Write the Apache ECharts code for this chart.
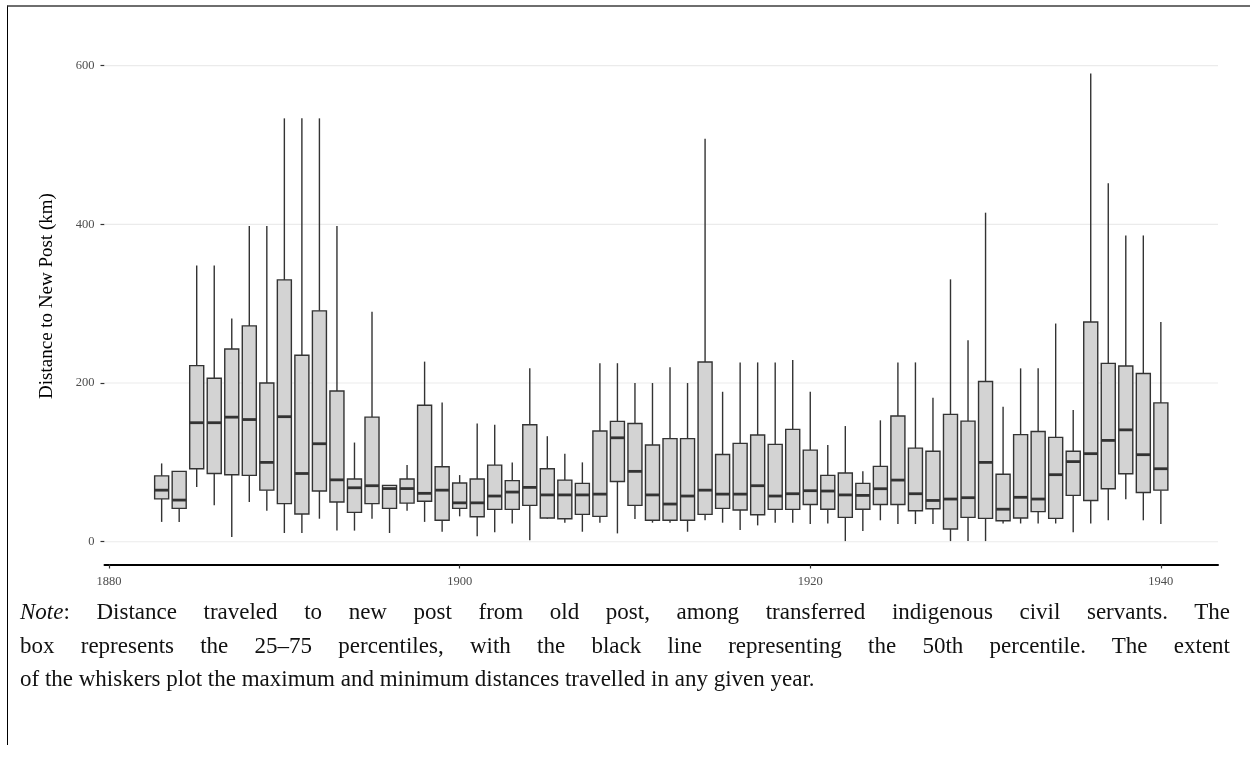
<!DOCTYPE html>
<html>
<head>
<meta charset="utf-8">
<script src="https://cdn.jsdelivr.net/npm/echarts@6/dist/echarts.min.js"></script>
<style>
  html, body { margin: 0; padding: 0; background: #ffffff; }
  #wrap { position: relative; width: 1250px; height: 778px; overflow: hidden; }
  #chart { position: absolute; left: 0; top: 0; width: 1250px; height: 778px; }
  #frame { position: absolute; left: 7px; top: 5px; width: 1250px; height: 740px;
           border-top: 2px solid #6e6e6e; border-left: 1.5px solid #000; box-sizing: border-box; }
  #note { position: absolute; left: 20px; top: 595px; width: 1210px;
          font-family: "Liberation Serif", "DejaVu Serif", serif; font-size: 23px; color: #111; }
  #note div { line-height: 33.5px; height: 33.5px; white-space: nowrap; }
  #note .j { text-align: justify; text-align-last: justify; }
</style>
</head>
<body>
<div id="wrap">
  <div id="frame"></div>
  <div id="chart"></div>
  <div id="note">
    <div class="j"><i>Note</i>: Distance traveled to new post from old post, among transferred indigenous civil servants. The</div>
    <div class="j">box represents the 25&#8211;75 percentiles, with the black line representing the 50th percentile. The extent</div>
    <div>of the whiskers plot the maximum and minimum distances travelled in any given year.</div>
  </div>
</div>
<script>
// ---- data ----
var years = [1883,1884,1885,1886,1887,1888,1889,1890,1891,1892,1893,1894,1895,1896,1897,1898,1899,1900,1901,1902,1903,1904,1905,1906,1907,1908,1909,1910,1911,1912,1913,1914,1915,1916,1917,1918,1919,1920,1921,1922,1923,1924,1925,1926,1927,1928,1929,1930,1931,1932,1933,1934,1935,1936,1937,1938,1939,1940];
var minVals = [25,25,69,46,6,50,39,11,11,29,14,14,29,11,39,25,12.6,32,7,11.8,23,2,29,24,12.6,24,10.5,28.6,24,24,12.6,27,24,14.7,20.6,24,24,22.3,23,0.8,13.4,27,22.3,22.3,22.3,0.8,0.8,0.8,23,23,23,23,11.8,23,27,53.4,27,22.3];
var q1Vals = [54,42,92,86,84.5,83.6,65,48,35,64,50,37,48,42,48.7,51,27,42,31.5,40.8,40.8,45.8,30,29,34.5,32,76,45.8,27,27,27,34.5,42,40,34,40.8,40.8,47,41,30.7,41,47,47,39,41.6,16,30.7,29.4,26.5,30,38,29.4,58.4,52,66.8,85.7,62,65];
var medVals = [65,52.5,150,150,157,154,100,157.6,86,123.5,78,68,70.6,67,67,61,65,49,49,57.6,62.6,68.5,59,59,59,60,131,88.7,59,47.5,57.6,65,60,60,70.6,57.6,60.5,64.3,63.9,59,58.4,66.8,77.7,60.5,52,53.8,55.5,100,41,56,53.8,84.5,101,111,127.7,141,109.7,92];
var q3Vals = [83,88.7,222,206,243,272,200,330,235,291,190,79,157,71,79,172,94.5,74,79,96.6,77,147.5,92,77.7,73.5,139.5,151.7,149,122,130,130,226.5,110,124,134.5,122.7,141.6,115.5,83.6,86.6,73.5,95,158.4,118,114,160.5,152,202,85,135,139,131.5,114,277,224.8,221.4,212,175];
var maxVals = [98.7,89,348,348,281.5,398,398,533.6,533.6,533.6,398,125,290,71.4,96.6,227,175.6,84,149,147.5,100,218.5,133,111,100,225,225,200,200,220,200,508,189,226,226,226,229,189,122,145.8,88.7,153,226,226,181.5,330.7,254,414.7,170,218.5,218.5,275,166,590,451.7,386,386,277];
var xTicks = [1880, 1900, 1920, 1940];
var yTicks = [0, 200, 400, 600];
var yTitle = 'Distance to New Post (km)';

var X_MIN = 1879.74, X_MAX = 1943.26, Y_MIN = -28.7, Y_MAX = 619.5;

var boxData = years.map(function (y, i) {
  return [y, minVals[i], q1Vals[i], medVals[i], q3Vals[i], maxVals[i]];
});
var gridData = yTicks.map(function (v) { return [1910, v]; });

var SERIF = '"Liberation Serif", "DejaVu Serif", serif';
var chart = echarts.init(document.getElementById('chart'), null, { renderer: 'canvas' });

chart.setOption({
  animation: false,
  backgroundColor: 'transparent',
  grid: { left: 104.5, right: 32, top: 50.2, bottom: 213.5, containLabel: false, outerBoundsMode: 'none' },
  xAxis: {
    type: 'value', min: X_MIN, max: X_MAX,
    axisLine: { show: true, onZero: false, lineStyle: { color: '#000', width: 2 } },
    axisTick: { show: true, customValues: xTicks, length: 4, lineStyle: { color: '#333', width: 1.2 } },
    axisLabel: { show: true, customValues: xTicks, margin: 11, color: '#4d4d4d', fontSize: 12.5, fontFamily: SERIF,
                 formatter: function (v) { return String(Math.round(v)); } },
    splitLine: { show: false }
  },
  yAxis: {
    type: 'value', min: Y_MIN, max: Y_MAX,
    axisLine: { show: false },
    axisTick: { show: true, customValues: yTicks, length: 4, lineStyle: { color: '#333', width: 1.2 } },
    axisLabel: { show: true, customValues: yTicks, margin: 10, color: '#4d4d4d', fontSize: 12.5, fontFamily: SERIF,
                 formatter: function (v) { return String(Math.round(v)); } },
    splitLine: { show: false }
  },
  graphic: [{
    type: 'text', x: 47, y: 296, rotation: Math.PI / 2,
    style: { text: yTitle, fill: '#000', font: '19px ' + SERIF, align: 'center', verticalAlign: 'middle' }
  }],
  series: [
    {
      type: 'custom', name: 'grid', z: 1, silent: true, clip: false,
      data: gridData,
      renderItem: function (params, api) {
        var cs = params.coordSys;
        var py = api.coord([api.value(0), api.value(1)])[1];
        return { type: 'line', shape: { x1: cs.x, y1: py, x2: cs.x + cs.width, y2: py },
                 style: { stroke: '#ebebeb', lineWidth: 1.1 } };
      }
    },
    {
      type: 'custom', name: 'box', z: 5, clip: false,
      data: boxData,
      encode: { x: 0, y: [1, 2, 3, 4, 5] },
      renderItem: function (params, api) {
        var x = api.value(0);
        var pMin = api.coord([x, api.value(1)]);
        var pQ1 = api.coord([x, api.value(2)]);
        var pMed = api.coord([x, api.value(3)]);
        var pQ3 = api.coord([x, api.value(4)]);
        var pMax = api.coord([x, api.value(5)]);
        var w = api.size([0.8, 0])[0];
        var cx = pMed[0];
        var stroke = '#333333';
        return {
          type: 'group',
          children: [
            { type: 'line', shape: { x1: cx, y1: pMax[1], x2: cx, y2: pQ3[1] }, style: { stroke: stroke, lineWidth: 1.4 } },
            { type: 'line', shape: { x1: cx, y1: pQ1[1], x2: cx, y2: pMin[1] }, style: { stroke: stroke, lineWidth: 1.4 } },
            { type: 'rect', shape: { x: cx - w / 2, y: pQ3[1], width: w, height: pQ1[1] - pQ3[1] },
              style: { fill: '#d3d3d3', stroke: stroke, lineWidth: 1.4 } },
            { type: 'line', shape: { x1: cx - w / 2, y1: pMed[1], x2: cx + w / 2, y2: pMed[1] },
              style: { stroke: stroke, lineWidth: 2.8 } }
          ]
        };
      }
    }
  ]
});
</script>
</body>
</html>
